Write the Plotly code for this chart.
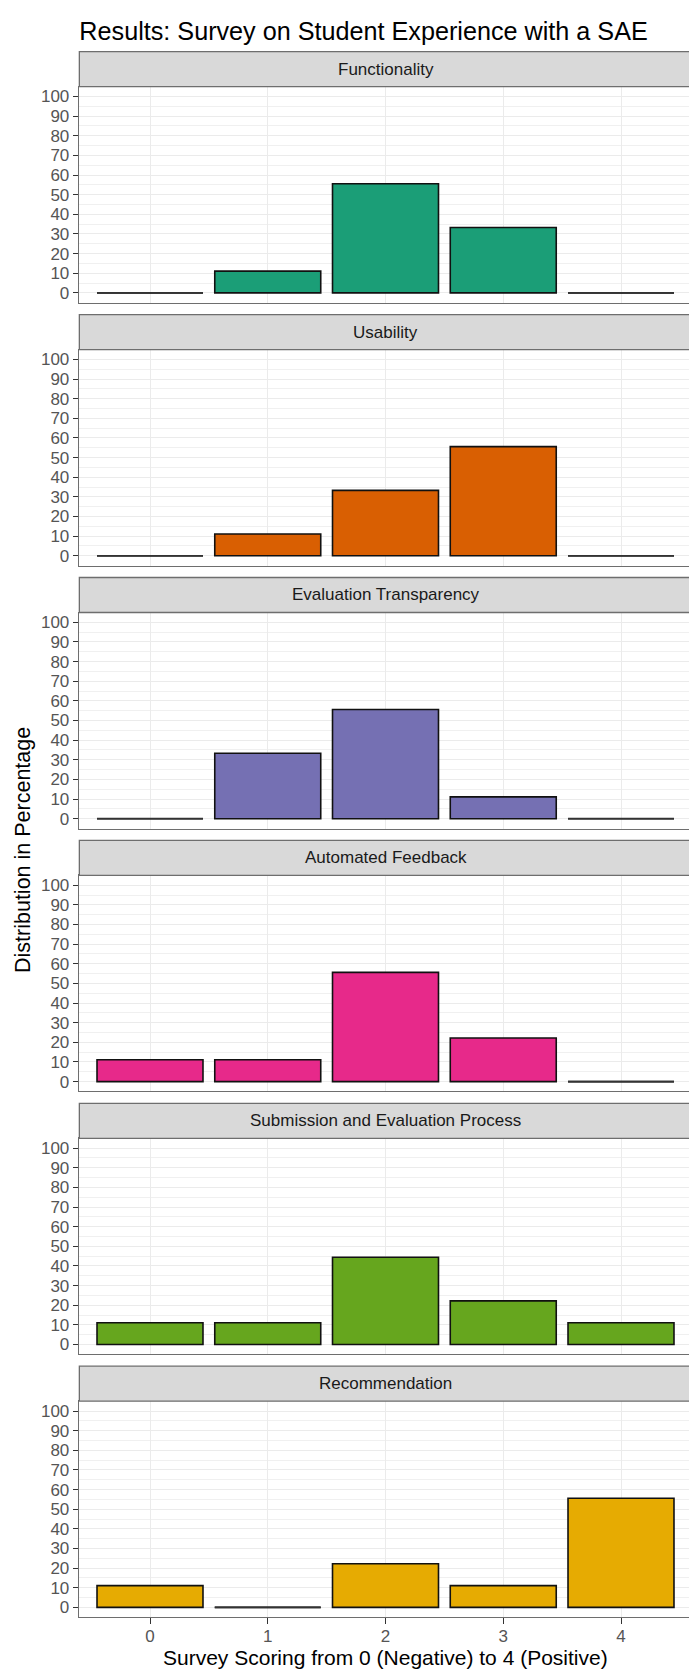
import plotly.graph_objects as go

# ---------------- data ----------------
scores = [0, 1, 2, 3, 4]
facets = ["Functionality", "Usability", "Evaluation Transparency",
          "Automated Feedback", "Submission and Evaluation Process", "Recommendation"]
functionality = [0, 11.1, 55.6, 33.3, 0]
usability = [0, 11.1, 33.3, 55.6, 0]
evaluation_transparency = [0, 33.3, 55.6, 11.1, 0]
automated_feedback = [11.1, 11.1, 55.6, 22.2, 0]
submission_process = [11.1, 11.1, 44.4, 22.2, 11.1]
recommendation = [11.1, 0, 22.2, 11.1, 55.6]
series = [functionality, usability, evaluation_transparency,
          automated_feedback, submission_process, recommendation]
colors = ["#1B9E77", "#D95F02", "#7570B3", "#E7298A", "#66A61E", "#E6AB02"]
y_ticks = list(range(0, 101, 10))

title = "Results: Survey on Student Experience with a SAE"
x_title = "Survey Scoring from 0 (Negative) to 4 (Positive)"
y_title = "Distribution in Percentage"

# ---------------- geometry (pixels) ----------------
W, H = 689, 1669
FONT = "Liberation Sans"
strip_top0 = 51.7
pitch = 262.9
strip_h = 35.0
panel_h = 216.0
x0_px = 150.0          # pixel of score 0
unit_px = 117.75       # pixels per score unit
bar_w = 0.9
x_lo = -0.6
x_hi = (W - x0_px) / unit_px
panel_left_px = x0_px + x_lo * unit_px
panel_right_px = x0_px + 4.6 * unit_px

def py(p):
    return 1 - p / H

def px(p):
    return p / W

fig = go.Figure()
layout = dict(
    width=W, height=H, autosize=False,
    margin=dict(l=0, r=0, t=0, b=0),
    paper_bgcolor="white", plot_bgcolor="white",
    showlegend=False,
    font=dict(family=FONT, color="#4D4D4D", size=17),
    title=dict(text=title, x=px(panel_left_px), xanchor="left", xref="paper",
               y=py(31), yanchor="middle", yref="paper",
               font=dict(family=FONT, size=25.2, color="#000000")),
    shapes=[], annotations=[],
)

border_col = "#6E6E6E"
for i, (name, vals, col) in enumerate(zip(facets, series, colors)):
    k = "" if i == 0 else str(i + 1)
    st = strip_top0 + i * pitch
    pt = st + strip_h
    pb = pt + panel_h
    xa, ya = "x" + k, "y" + k
    fig.add_trace(go.Bar(
        x=scores, y=vals, width=bar_w, xaxis=xa, yaxis=ya,
        marker=dict(color=col, line=dict(color="#111111", width=1.6)),
        hoverinfo="x+y",
    ))
    # zero-height bars are drawn as their outline
    zx, zy = [], []
    for s, v in zip(scores, vals):
        if v == 0:
            zx += [s - bar_w / 2, s + bar_w / 2, None]
            zy += [v, v, None]
    if zx:
        fig.add_trace(go.Scatter(x=zx, y=zy, mode="lines", xaxis=xa, yaxis=ya,
                                 line=dict(color="#333333", width=1.8),
                                 hoverinfo="skip"))
    last = (i == len(facets) - 1)
    layout["xaxis" + k] = dict(
        domain=[px(panel_left_px), 1.0], range=[x_lo, x_hi], anchor=ya,
        tickvals=scores, ticktext=[str(s) for s in scores],
        showticklabels=last, ticks="outside" if last else "",
        ticklen=5.5, tickwidth=1.1, tickcolor="#333333",
        ticklabelstandoff=-2,
        tickfont=dict(family=FONT, size=17, color="#555555"),
        showgrid=True, gridcolor="#EBEBEB", gridwidth=1.4,
        zeroline=False, showline=True, linecolor=border_col, linewidth=1.3,
        mirror=True, fixedrange=True,
    )
    layout["yaxis" + k] = dict(
        domain=[py(pb), py(pt)], range=[-5, 105], anchor=xa,
        tickvals=y_ticks, ticktext=[str(t) for t in y_ticks],
        ticks="outside", ticklen=5.5, tickwidth=1.1, tickcolor="#333333",
        tickfont=dict(family=FONT, size=17, color="#555555"),
        showgrid=True, gridcolor="#EBEBEB", gridwidth=1.4,
        minor=dict(dtick=5, tick0=0, showgrid=True, gridcolor="#F0F0F0",
                   gridwidth=0.9, ticks=""),
        zeroline=False, showline=True, linecolor=border_col, linewidth=1.3,
        mirror=False, fixedrange=True,
    )
    # strip
    layout["shapes"].append(dict(
        type="rect", xref="paper", yref="paper",
        x0=px(panel_left_px), x1=px(panel_right_px), y0=py(pt), y1=py(st),
        fillcolor="#D9D9D9", line=dict(color=border_col, width=1.3), layer="above",
    ))
    layout["annotations"].append(dict(
        text=name, xref=xa, yref="paper", x=2, y=py(st + strip_h / 2),
        xanchor="center", yanchor="middle", showarrow=False,
        font=dict(family=FONT, size=17, color="#1A1A1A"),
    ))

# axis titles
layout["annotations"].append(dict(
    text=x_title, xref="x6", yref="paper", x=2, y=py(1657.5),
    xanchor="center", yanchor="middle", showarrow=False,
    font=dict(family=FONT, size=21, color="#000000"),
))
layout["annotations"].append(dict(
    text=y_title, xref="paper", yref="paper", x=px(23), y=py(850),
    xanchor="center", yanchor="middle", textangle=-90, showarrow=False,
    font=dict(family=FONT, size=21.5, color="#000000"),
))

fig.update_layout(**layout)
fig.write_html("out.html", config={"displayModeBar": False},
               post_script="document.body.style.margin='0';")
